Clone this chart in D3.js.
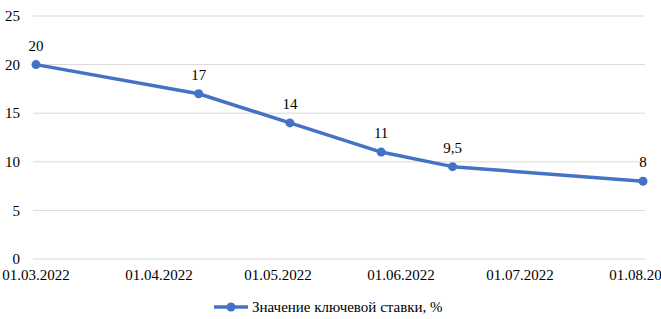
<!DOCTYPE html>
<html>
<head>
  <meta charset="UTF-8">
  <title>Ключевая ставка</title>
  <script src="https://d3js.org/d3.v7.min.js"></script>
  <style>
    body { margin: 0; background: #fff; }
    .grid line { stroke: #d9d9d9; stroke-width: 1px; }
  </style>
</head>
<body>
  <script>
    // Chart data
    const dates = ["01.03.2022", "11.04.2022", "04.05.2022", "27.05.2022", "14.06.2022", "01.08.2022"];
    const values = [20, 17, 14, 11, 9.5, 8];
    const labels = ["20", "17", "14", "11", "9,5", "8"];
    const xTicks = ["01.03.2022", "01.04.2022", "01.05.2022", "01.06.2022", "01.07.2022", "01.08.2022"];
    const yTicks = [0, 5, 10, 15, 20, 25];
    const seriesName = "Значение ключевой ставки, %";

    const width = 661, height = 319;
    const parse = d3.timeParse("%d.%m.%Y");
    const color = "#4472C4";

    const svg = d3.select("body").append("svg")
      .attr("width", width)
      .attr("height", height)
      .style("font-family", "'Liberation Serif', monospace");

    // same serif face on every label
    const label = sel => sel
      .style("font-family", "'Liberation Serif', monospace")
      .style("font-size", "15px")
      .attr("fill", "#000");

    const x = d3.scaleTime()
      .domain([parse(xTicks[0]), parse(xTicks[xTicks.length - 1])])
      .range([36, 643]);

    const y = d3.scaleLinear()
      .domain([0, 25])
      .range([259, 16]);

    // horizontal gridlines
    svg.append("g").attr("class", "grid")
      .selectAll("line")
      .data(yTicks)
      .join("line")
      .attr("x1", 33).attr("x2", 645)
      .attr("y1", d => y(d)).attr("y2", d => y(d));

    // y tick labels
    svg.append("g")
      .selectAll("text")
      .data(yTicks)
      .join("text")
      .attr("x", 20)
      .attr("y", d => y(d))
      .attr("dy", "0.35em")
      .attr("text-anchor", "end")
      .call(label)
      .text(d => d);

    // x tick labels
    svg.append("g")
      .selectAll("text")
      .data(xTicks)
      .join("text")
      .attr("x", d => x(parse(d)))
      .attr("y", 280)
      .attr("text-anchor", "middle")
      .call(label)
      .text(d => d);

    const pts = dates.map((d, i) => ({ date: parse(d), value: values[i], label: labels[i] }));

    const line = d3.line()
      .x(d => x(d.date))
      .y(d => y(d.value));

    svg.append("path")
      .datum(pts)
      .attr("d", line)
      .attr("fill", "none")
      .attr("stroke", color)
      .attr("stroke-width", 3.5)
      .attr("stroke-linejoin", "round");

    svg.append("g")
      .selectAll("circle")
      .data(pts)
      .join("circle")
      .attr("cx", d => x(d.date))
      .attr("cy", d => y(d.value))
      .attr("r", 4.5)
      .attr("fill", color);

    // data labels
    svg.append("g")
      .selectAll("text")
      .data(pts)
      .join("text")
      .attr("x", d => x(d.date))
      .attr("y", d => y(d.value) - 14)
      .attr("text-anchor", "middle")
      .call(label)
      .text(d => d.label);

    // legend
    const lg = svg.append("g").attr("transform", "translate(214,307)");
    lg.append("line")
      .attr("x1", 0).attr("x2", 34)
      .attr("stroke", color).attr("stroke-width", 3.5);
    lg.append("circle").attr("cx", 17).attr("r", 4.5).attr("fill", color);
    lg.append("text")
      .attr("x", 38)
      .attr("dy", "0.35em")
      .call(label)
      .text(seriesName);
  </script>
</body>
</html>
